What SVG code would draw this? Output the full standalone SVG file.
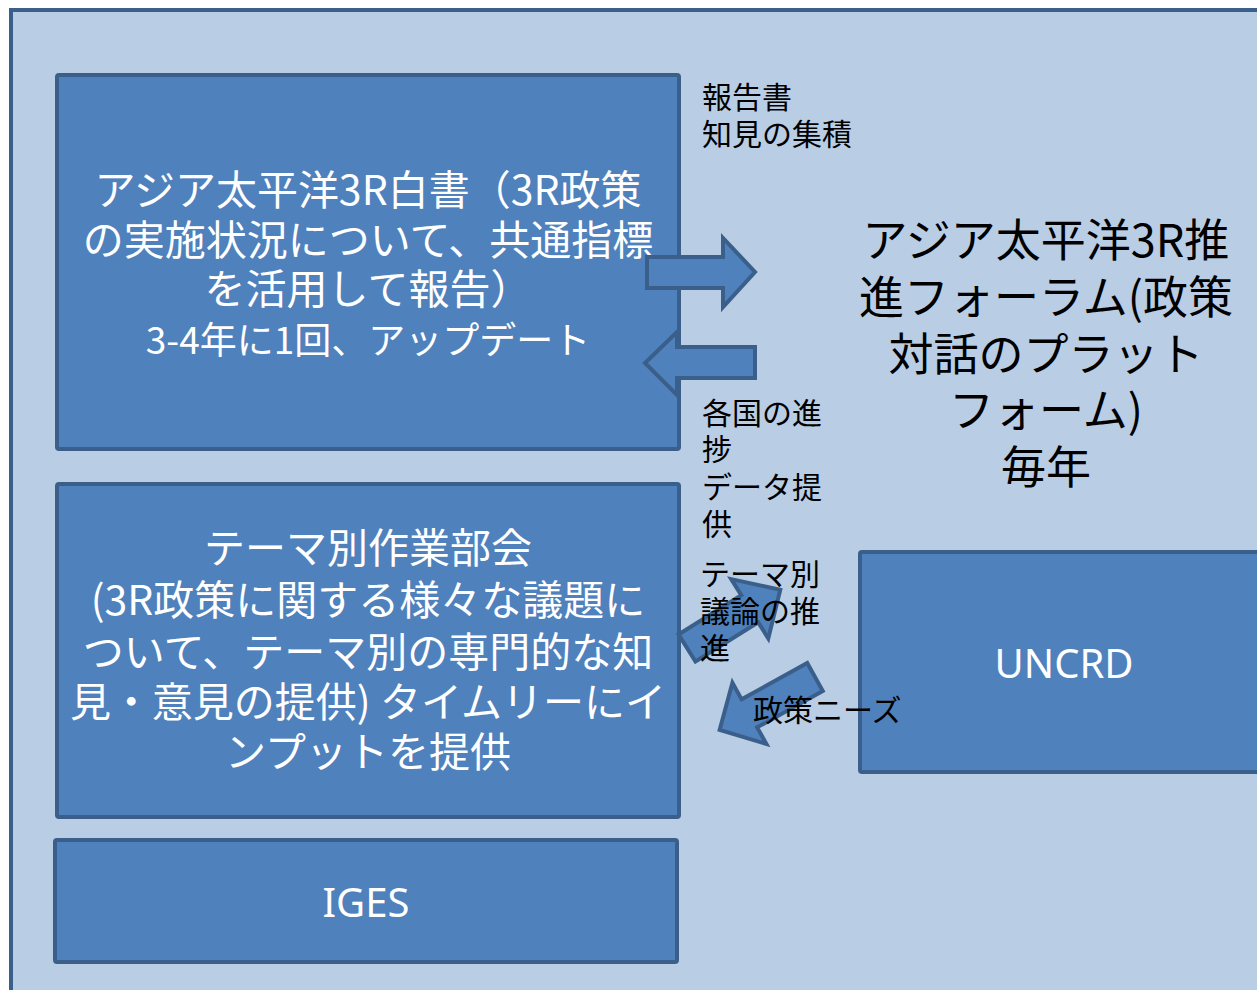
<svg xmlns="http://www.w3.org/2000/svg" width="1257" height="990" viewBox="0 0 1257 990">
<style>
.box{fill:#4f81bd;stroke:#3a5f8b;stroke-width:4}
.arr{fill:#4f81bd;stroke:#3a5f8b;stroke-width:4;stroke-linejoin:miter}
.w{fill:#ffffff;font-family:"Noto Sans CJK JP","Noto Sans",sans-serif;font-size:41px;text-anchor:middle}
.wl{fill:#ffffff;font-family:"Noto Sans","Open Sans",sans-serif;font-size:40px;text-anchor:middle}
.big{fill:#000000;font-family:"Noto Sans CJK JP",sans-serif;font-size:45px;text-anchor:middle}
.lab{fill:#000000;font-family:"Noto Sans CJK JP",sans-serif;font-size:30px}
</style>
<rect width="1257" height="990" fill="#ffffff"/>
<g id="frame">
<rect x="11" y="10" width="1300" height="1000" fill="#b9cde4" stroke="#3a5f8b" stroke-width="4"/>
</g>
<g id="whitepaper">
<rect class="box" x="57" y="75" width="622" height="374" rx="2"/>
<text class="w" x="368" y="205">アジア太平洋3R白書（3R政策</text>
<text class="w" x="368" y="255">の実施状況について、共通指標</text>
<text class="w" x="368" y="304">を活用して報告）</text>
<text class="w" x="368" y="354" style="font-size:37px">3-4年に1回、アップデート</text>
</g>
<g id="workinggroup">
<rect class="box" x="57" y="484" width="622" height="333" rx="2"/>
<text class="w" x="368" y="563">テーマ別作業部会</text>
<text class="w" x="368" y="615">(3R政策に関する様々な議題に</text>
<text class="w" x="368" y="667">ついて、テーマ別の専門的な知</text>
<text class="w" x="368" y="717">見・意見の提供) タイムリーにイ</text>
<text class="w" x="368" y="767">ンプットを提供</text>
</g>
<g id="iges">
<rect class="box" x="55" y="840" width="622" height="122" rx="2"/>
<text class="wl" x="366" y="917">IGES</text>
</g>
<g id="uncrd">
<rect class="box" x="860" y="552" width="420" height="220" rx="2"/>
<text class="wl" x="1064" y="678">UNCRD</text>
</g>
<g id="forum">
<text class="big" x="1046" y="257">アジア太平洋3R推</text>
<text class="big" x="1046" y="314">進フォーラム(政策</text>
<text class="big" x="1046" y="371">対話のプラット</text>
<text class="big" x="1046" y="427">フォーム)</text>
<text class="big" x="1046" y="484">毎年</text>
</g>
<g id="connectors">
<path class="arr" d="M647,257 L723,257 L723,238 L755,272 L723,307 L723,288 L647,288 Z"/>
<path class="arr" d="M755,347 L677,347 L677,332 L645,363 L677,395 L677,378 L755,378 Z"/>
<path class="arr" transform="translate(687,648) rotate(-32)" d="M0,-16 L74,-16 L74,-35 L110,0 L74,35 L74,16 L0,16 Z"/>
<path class="arr" transform="translate(815,677) rotate(151)" d="M0,-16 L75,-16 L75,-35 L109,0 L75,35 L75,16 L0,16 Z"/>
</g>
<g id="labels">
<text class="lab" x="702" y="108">報告書</text>
<text class="lab" x="702" y="145">知見の集積</text>
<text class="lab" x="702" y="424">各国の進</text>
<text class="lab" x="702" y="460">捗</text>
<text class="lab" x="702" y="498">データ提</text>
<text class="lab" x="702" y="535">供</text>
<text class="lab" x="700" y="585">テーマ別</text>
<text class="lab" x="700" y="622">議論の推</text>
<text class="lab" x="700" y="659">進</text>
<text class="lab" x="753" y="721">政策ニーズ</text>
</g>
</svg>
